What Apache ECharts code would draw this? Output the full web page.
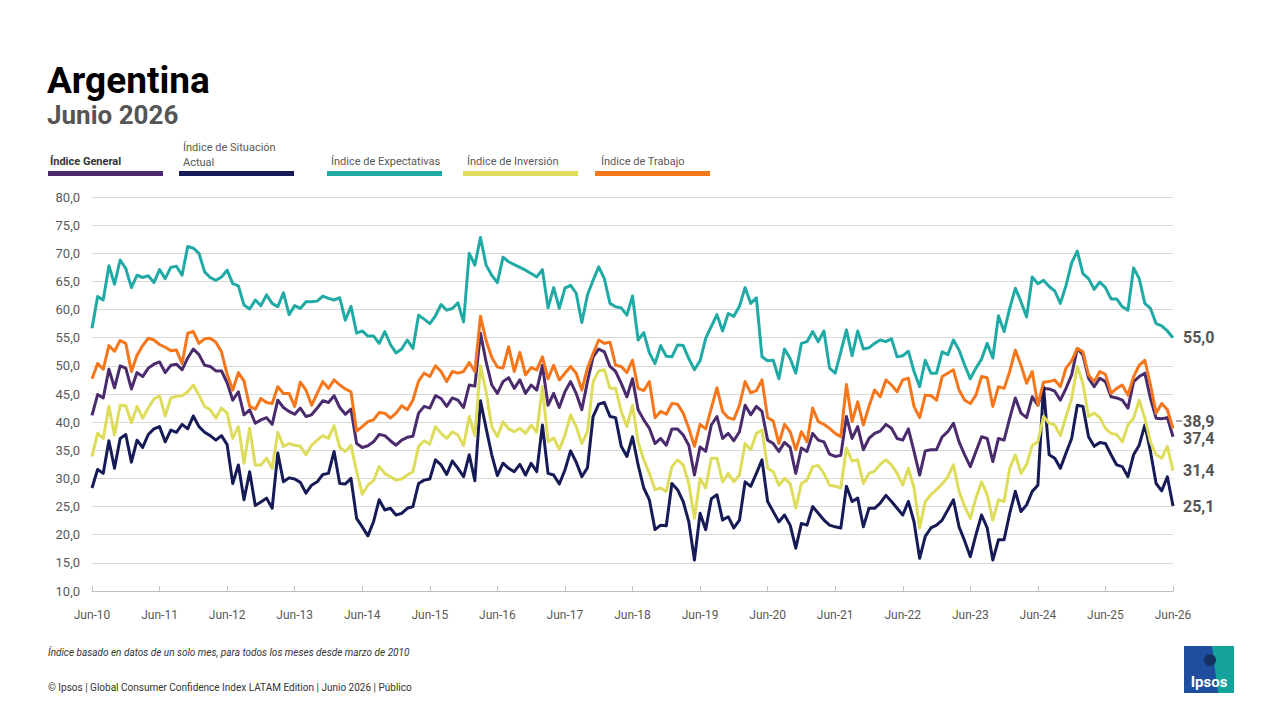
<!DOCTYPE html>
<html>
<head>
<meta charset="utf-8">
<title>Argentina - Junio 2026</title>
<script src="https://cdn.jsdelivr.net/npm/echarts@6/dist/echarts.min.js"></script>
<style>
  html, body { margin: 0; padding: 0; background: #ffffff; }
  #chart { width: 1280px; height: 718px; }
</style>
</head>
<body>
<div id="chart"></div>
<script>
// valores mensuales, jun-10 .. jun-26
const general = [
  41.2, 44.9, 44.3, 49.4, 46.1, 50.0, 49.6, 45.9, 48.8, 48.1, 49.6, 50.3, 50.7, 48.8, 50.1, 50.3, 49.3, 51.4, 53.0, 52.0, 50.1, 49.9, 49.1, 49.1, 47.0,
  43.9, 45.4, 41.3, 42.2, 39.8, 40.4, 40.8, 39.6, 43.9, 42.6, 41.9, 41.4, 42.5, 41.0, 41.3, 42.5, 43.8, 43.5, 44.7, 42.6, 41.4, 42.3, 36.2, 35.5, 35.8,
  36.5, 37.8, 37.6, 36.7, 35.9, 36.8, 37.3, 37.5, 41.6, 42.8, 42.5, 44.7, 44.2, 42.8, 44.3, 43.9, 42.6, 46.6, 46.4, 55.8,
  50.7, 46.6, 45.1, 47.2,
  47.9, 46.0, 47.5, 45.1, 46.6, 45.7, 50.1, 43.0, 45.1, 42.6, 45.4, 47.2, 45.1, 42.2, 47.2, 51.6, 53.0, 52.5, 49.9, 49.0, 46.9, 44.5, 47.7, 42.2, 40.4, 38.9,
  36.2, 37.1, 35.9, 38.8, 38.8, 37.7, 35.9, 30.6, 35.6, 34.8, 39.5, 41.0, 37.1, 38.0, 36.7, 38.3, 43.0, 41.3, 42.8, 41.9, 36.8, 36.2, 34.8, 36.4,
  35.5, 30.9, 35.4, 34.8, 38.0, 36.8, 36.5, 34.3, 33.9, 34.1, 41.0, 37.1, 39.2, 35.1, 37.1, 38.0, 38.4, 39.6, 38.9, 37.1, 36.8, 38.8, 34.8, 30.6, 34.9, 35.1,
  35.1, 37.4, 38.3, 39.8, 36.5, 34.2, 32.1, 34.8, 37.4, 37.1, 33.0, 37.1, 36.8, 40.7, 44.3, 41.6, 40.8, 44.5, 43.0, 46.0, 45.9, 45.5, 43.9, 46.0,
  48.4, 53.1, 51.9, 47.8, 46.3, 47.8, 47.2, 44.5, 44.3, 43.9, 42.5, 47.2, 48.1, 48.7, 44.2, 40.7, 40.6, 40.8, 37.4
];

const actual = [
  28.3, 31.6, 30.9, 36.7, 31.8, 37.1, 37.8, 32.9, 36.8, 35.5, 37.8, 38.8, 39.2, 36.5, 38.6, 38.2, 39.6, 38.8, 41.1, 39.2, 38.2, 37.6, 36.8, 37.6, 36.0,
  29.1, 32.4, 26.2, 31.2, 25.2, 25.8, 26.5, 24.7, 34.5, 29.4, 30.1, 29.9, 29.3, 27.4, 28.8, 29.4, 30.7, 30.9, 34.8, 29.1, 29.0, 30.0, 22.9, 21.4, 19.8,
  22.3, 26.2, 24.4, 24.7, 23.5, 23.8, 24.7, 25.0, 29.1, 29.7, 29.9, 33.3, 32.4, 30.7, 33.1, 31.8, 30.3, 34.2, 29.6, 43.8,
  38.9, 34.2, 30.5, 32.7,
  31.8, 31.2, 32.5, 30.6, 32.7, 31.2, 39.5, 30.9, 30.6, 29.0, 31.5, 34.9, 32.9, 30.3, 31.9, 41.0, 43.2, 43.5, 41.0, 40.8, 35.7, 33.9, 37.4, 32.4, 28.3, 26.2,
  20.9, 21.7, 21.6, 29.1, 28.0, 25.9, 22.3, 15.5, 23.8, 20.9, 26.4, 27.1, 22.6, 23.2, 21.2, 22.6, 29.4, 28.6, 30.9, 33.3, 25.9, 24.1, 22.3, 23.5,
  21.7, 17.6, 22.0, 21.7, 25.0, 23.8, 22.6, 21.7, 21.4, 21.2, 28.6, 25.9, 26.5, 21.4, 24.7, 24.7, 25.6, 27.0, 25.9, 24.7, 23.5, 25.9, 22.3, 15.8, 19.7, 21.2,
  21.7, 22.6, 24.4, 26.2, 21.4, 18.9, 16.1, 20.0, 23.5, 21.2, 15.5, 19.1, 19.1, 23.8, 27.7, 24.1, 25.3, 27.7, 28.8, 46.3, 34.2, 33.6, 31.8, 34.5,
  37.1, 43.0, 42.8, 37.4, 35.7, 36.4, 36.2, 34.2, 32.4, 32.1, 30.3, 34.2, 35.9, 39.5, 34.8, 29.1, 27.8, 30.3, 25.1
];

const expectativas = [
  56.7, 62.3, 61.7, 67.8, 64.5, 68.8, 67.3, 63.9, 66.1, 65.7, 66.0, 64.8, 67.1, 65.5, 67.5, 67.7, 66.1, 71.2, 70.9, 70.0, 66.7, 65.7, 65.2, 65.8, 67.0,
  64.6, 64.2, 60.8, 60.1, 61.7, 60.7, 62.6, 61.1, 60.5, 63.0, 59.1, 60.7, 60.2, 61.4, 61.4, 61.5, 62.4, 62.0, 61.7, 62.1, 58.1, 60.6, 55.8, 56.2, 55.3,
  55.3, 54.0, 56.1, 53.8, 52.3, 53.0, 54.6, 53.1, 59.0, 58.3, 57.5, 58.9, 60.9, 59.9, 60.2, 61.2, 57.8, 70.0, 67.9, 72.8,
  67.9, 66.1, 64.8, 69.3,
  68.5, 68.0, 67.5, 67.0, 66.4, 65.8, 67.1, 60.3, 63.9, 60.2, 63.8, 64.3, 62.9, 57.7, 62.6, 65.2, 67.6, 65.5, 61.1, 60.5, 60.3, 59.0, 62.4, 54.6, 55.9, 52.3,
  50.4, 53.6, 51.7, 51.6, 53.7, 53.6, 51.3, 49.3, 50.9, 54.9, 57.0, 59.1, 56.2, 59.3, 58.8, 60.6, 63.9, 61.1, 62.1, 51.6, 50.9, 51.0, 47.7, 53.0,
  51.3, 48.7, 54.0, 54.3, 56.1, 54.3, 56.2, 49.6, 48.7, 52.5, 56.4, 51.8, 56.2, 53.0, 53.2, 54.0, 54.6, 54.3, 54.8, 51.6, 51.8, 52.6, 49.0, 46.3, 51.0, 48.7,
  48.7, 52.5, 52.0, 54.6, 52.8, 50.1, 47.7, 49.6, 51.2, 54.0, 51.4, 58.9, 56.1, 60.2, 63.8, 61.4, 58.7, 65.8, 64.6, 65.2, 64.1, 63.3, 61.1, 64.3,
  68.3, 70.4, 66.4, 65.5, 63.6, 64.9, 63.9, 61.9, 61.9, 60.5, 59.9, 67.4, 65.5, 61.1, 60.2, 57.5, 57.1, 56.2, 55.0
];

const inversion = [
  33.9, 38.0, 37.1, 42.8, 37.7, 43.0, 42.9, 39.9, 42.8, 40.7, 42.5, 44.1, 44.7, 41.1, 44.3, 44.6, 44.7, 45.4, 46.6, 44.8, 42.8, 42.2, 40.7, 42.5, 41.6,
  37.1, 39.2, 32.7, 38.9, 32.4, 32.4, 33.6, 31.8, 38.2, 35.7, 36.2, 35.9, 35.7, 34.2, 35.9, 36.8, 37.6, 37.1, 39.4, 35.5, 34.8, 35.9, 31.2, 27.2, 28.8,
  29.6, 32.1, 30.9, 30.3, 29.7, 29.9, 30.6, 31.2, 35.7, 36.7, 36.1, 39.2, 38.0, 37.1, 38.3, 37.7, 35.8, 41.0, 37.6, 50.0,
  45.4, 39.2, 37.4, 40.1,
  38.8, 38.3, 38.9, 38.0, 39.5, 38.2, 46.3, 36.5, 37.2, 35.1, 37.7, 41.3, 39.2, 36.2, 38.3, 47.2, 49.1, 49.3, 46.0, 46.0, 41.9, 39.2, 43.0, 36.5, 33.3, 30.9,
  28.0, 28.3, 27.7, 32.1, 33.3, 32.4, 29.1, 22.9, 30.0, 28.3, 33.6, 33.6, 29.4, 30.9, 29.4, 30.6, 36.2, 35.1, 38.0, 38.6, 31.8, 31.2, 28.8, 30.0,
  29.1, 24.7, 29.1, 29.7, 32.1, 32.3, 30.9, 28.8, 28.6, 28.3, 35.4, 33.1, 33.3, 29.1, 30.9, 31.3, 32.5, 33.3, 32.4, 30.9, 28.8, 31.8, 28.3, 21.2, 25.9, 27.1,
  28.0, 29.0, 30.3, 32.4, 27.7, 25.0, 22.9, 26.5, 29.4, 27.1, 22.6, 26.2, 25.9, 31.8, 34.2, 30.9, 32.5, 35.9, 36.5, 41.0, 39.8, 39.5, 37.6, 41.0,
  44.2, 49.9, 46.9, 41.0, 41.6, 40.8, 38.9, 38.0, 37.8, 36.5, 39.5, 40.7, 43.9, 40.7, 36.5, 34.2, 33.6, 35.7, 31.4
];

const trabajo = [
  47.7, 50.4, 49.4, 53.6, 52.6, 54.5, 54.0, 49.0, 51.9, 53.6, 54.9, 54.6, 53.8, 53.3, 52.7, 52.8, 50.4, 55.8, 56.1, 54.0, 54.8, 54.9, 54.2, 52.5, 48.5,
  45.7, 48.8, 47.3, 42.8, 42.3, 44.2, 43.5, 43.3, 46.3, 45.1, 45.1, 42.8, 47.1, 45.7, 43.0, 45.1, 47.2, 46.0, 47.5, 46.6, 45.9, 45.4, 38.4, 39.2, 40.1,
  40.4, 41.7, 41.6, 40.7, 41.6, 42.9, 42.2, 43.9, 47.3, 48.7, 48.1, 50.0, 49.0, 47.2, 49.0, 48.7, 49.0, 50.6, 49.0, 58.8,
  54.5, 51.5, 49.8, 49.6,
  53.4, 49.0, 52.4, 48.4, 49.7, 49.3, 51.6, 47.7, 50.1, 47.5, 48.7, 49.9, 48.7, 45.7, 49.6, 52.2, 54.6, 54.0, 54.2, 50.1, 49.9, 48.8, 51.0, 46.0, 45.6, 47.2,
  40.8, 41.9, 41.4, 43.3, 43.2, 41.6, 38.9, 35.7, 39.6, 38.8, 42.5, 46.1, 41.9, 40.8, 40.5, 43.0, 47.2, 45.2, 45.6, 47.5, 40.8, 40.2, 36.2, 39.6,
  38.3, 35.1, 38.3, 36.5, 42.5, 40.1, 39.6, 38.9, 38.0, 37.4, 46.7, 40.1, 43.6, 39.5, 42.8, 45.7, 44.5, 47.5, 46.6, 45.4, 47.5, 47.8, 42.8, 40.8, 44.8, 44.7,
  43.9, 48.1, 48.7, 49.3, 45.7, 43.9, 43.3, 44.8, 48.1, 47.9, 42.8, 46.3, 46.0, 49.0, 52.8, 50.1, 46.9, 49.0, 43.0, 47.1, 47.2, 47.5, 46.3, 49.6,
  50.9, 53.1, 52.5, 48.4, 47.2, 49.0, 48.5, 45.1, 46.0, 46.6, 44.8, 48.1, 50.1, 51.0, 46.6, 41.6, 43.3, 42.2, 38.9
];

const seriesNames = ['Índice General', 'Índice de Situación Actual', 'Índice de Expectativas', 'Índice de Inversión', 'Índice de Trabajo'];
const seriesData = [general, actual, expectativas, inversion, trabajo];
const colors = ['#4a2b6d', '#161b58', '#20aaa5', '#dedd5b', '#f5761b'];

// etiquetas de meses (solo se muestran los junios)
const monthNames = ['Ene', 'Feb', 'Mar', 'Abr', 'May', 'Jun', 'Jul', 'Ago', 'Sep', 'Oct', 'Nov', 'Dic'];
const months = [];
for (let k = 0; k < general.length; k++) {
  months.push(monthNames[(5 + k) % 12] + '-' + (10 + Math.floor((5 + k) / 12)));
}

const fmt = v => v.toFixed(1).replace('.', ',');
const font = 'Roboto, "Noto Sans", sans-serif';

const chart = echarts.init(document.getElementById('chart'), null, { renderer: 'svg' });

// desplazamiento de etiquetas finales para que no se pisen
const endOffsets = [[0, 2], [0, 0], [0, 0], [0, 0], [0, -7]];

const series = seriesNames.map((name, i) => ({
  name: name,
  type: 'line',
  data: seriesData[i],
  showSymbol: false,
  symbol: 'none',
  smooth: false,
  lineStyle: { width: 3, color: colors[i], join: 'round' },
  itemStyle: { color: colors[i] },
  endLabel: {
    show: true,
    formatter: p => fmt(p.value),
    color: '#555555',
    fontFamily: font,
    fontWeight: 'bold',
    fontSize: 16,
    distance: 10,
    offset: endOffsets[i]
  }
}));

// leyenda: texto sobre una barra de color
const legendItems = [
  { text: 'Índice General', x: 50, y: 161, bar: 48, bold: true },
  { text: 'Índice de Situación\nActual', x: 183, y: 155, bar: 179 },
  { text: 'Índice de Expectativas', x: 331, y: 161, bar: 327 },
  { text: 'Índice de Inversión', x: 467, y: 161, bar: 463 },
  { text: 'Índice de Trabajo', x: 601, y: 161, bar: 595 }
];
const graphics = [];
legendItems.forEach((it, i) => {
  graphics.push({
    type: 'rect', shape: { x: it.bar, y: 171, width: 115, height: 5 },
    style: { fill: colors[i] }, silent: true
  });
  graphics.push({
    type: 'text',
    style: {
      x: it.x, y: it.y, text: it.text, verticalAlign: 'middle', lineHeight: 15,
      font: (it.bold ? 'bold ' : '') + '11px ' + font,
      fill: it.bold ? '#333333' : '#595959'
    }, silent: true
  });
});

graphics.push(
  { type: 'text', style: { x: 47, y: 80, text: 'Argentina', verticalAlign: 'middle', font: 'bold 37px ' + font, fill: '#000000' } },
  { type: 'text', style: { x: 47, y: 115, text: 'Junio 2026', verticalAlign: 'middle', font: 'bold 26px ' + font, fill: '#555555' } },
  { type: 'text', style: { x: 48, y: 652, text: 'Índice basado en datos de un solo mes, para todos los meses desde marzo de 2010', verticalAlign: 'middle', font: 'italic 10px ' + font, fill: '#333333' } },
  { type: 'text', style: { x: 48, y: 687, text: '© Ipsos | Global Consumer Confidence Index LATAM Edition | Junio 2026 | Público', verticalAlign: 'middle', font: '10px ' + font, fill: '#333333' } },
  // pequeña guía de la etiqueta 38,9
  { type: 'line', shape: { x1: 1176, y1: 421, x2: 1182, y2: 421 }, style: { stroke: '#555555', lineWidth: 1 } },
  // logo Ipsos
  { type: 'rect', shape: { x: 1184, y: 646, width: 50, height: 47 }, style: { fill: '#1f4e9e' } },
  { type: 'polygon', shape: { points: [[1212, 646], [1234, 646], [1234, 693], [1218, 693]] }, style: { fill: '#13a39b' } },
  { type: 'circle', shape: { cx: 1210, cy: 660, r: 6 }, style: { fill: '#15325e' } },
  { type: 'text', style: { x: 1209, y: 682, text: 'Ipsos', align: 'center', verticalAlign: 'middle', font: 'bold 15px ' + font, fill: '#ffffff' } }
);

chart.setOption({
  animation: false,
  backgroundColor: '#ffffff',
  color: colors,
  grid: { left: 92, right: 107, top: 197, bottom: 127, containLabel: false },
  xAxis: {
    type: 'category',
    data: months,
    boundaryGap: false,
    axisLine: { lineStyle: { color: '#bfbfbf', width: 1 } },
    axisTick: { interval: 11, length: 5, inside: true, lineStyle: { color: '#bfbfbf' } },
    axisLabel: { interval: 11, color: '#595959', fontSize: 12, fontFamily: font, margin: 18 },
    splitLine: { show: false }
  },
  yAxis: {
    type: 'value',
    min: 10,
    max: 80,
    interval: 5,
    axisLine: { show: false },
    axisTick: { show: false },
    axisLabel: { formatter: v => fmt(v), color: '#595959', fontSize: 13, fontFamily: font, margin: 12 },
    splitLine: { lineStyle: { color: '#d9d9d9', width: 1 } }
  },
  series: series,
  graphic: graphics
});
</script>
</body>
</html>
